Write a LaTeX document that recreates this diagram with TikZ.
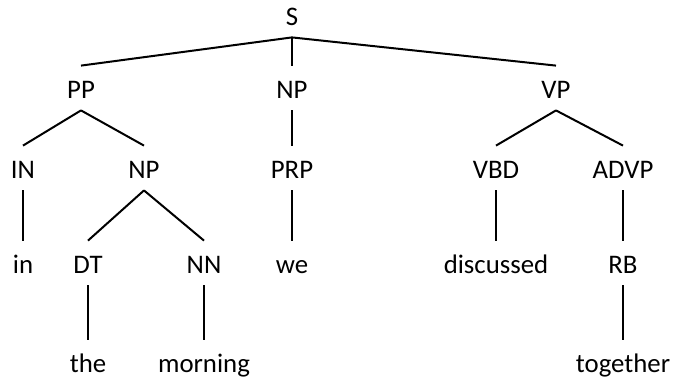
\documentclass[tikz,border=0pt]{standalone}
\usepackage{fontspec}
\setmainfont{Carlito}
\begin{document}
\begin{tikzpicture}[x=0.5pt,y=-0.5pt,
    tag/.style={font=\fontsize{13.4}{16}\selectfont, inner xsep=2pt, inner ysep=2pt, text height=14pt, text depth=4pt},
    branch/.style={line width=1pt}]
    \useasboundingbox (0,0) rectangle (675,381);
    \node[tag] (s) at (292,15) {S};
    \node[tag] (pp) at (81,88) {PP};
    \node[tag] (np) at (292,88) {NP};
    \node[tag] (vp) at (556,88) {VP};
    \node[tag] (in) at (23,168) {IN};
    \node[tag] (npb) at (144,168) {NP};
    \node[tag] (prp) at (292,168) {PRP};
    \node[tag] (vbd) at (496,168) {VBD};
    \node[tag] (advp) at (623,168) {ADVP};
    \node[tag] (win) at (23,263) {in};
    \node[tag] (dt) at (88,263) {DT};
    \node[tag] (nn) at (204,263) {NN};
    \node[tag] (wwe) at (292,263) {we};
    \node[tag] (wdisc) at (496,263) {discussed};
    \node[tag] (rb) at (623,263) {RB};
    \node[tag] (wthe) at (88,362) {the};
    \node[tag] (wmorn) at (204,362) {morning};
    \node[tag] (wtog) at (623,362) {together};
    \draw[branch] (s.south) -- (pp.north) ;
    \draw[branch] (s.south) -- (np.north) ;
    \draw[branch] (s.south) -- (vp.north) ;
    \draw[branch] (pp.south) -- (in.north) ;
    \draw[branch] (pp.south) -- (npb.north) ;
    \draw[branch] (np.south) -- (prp.north) ;
    \draw[branch] (vp.south) -- (vbd.north) ;
    \draw[branch] (vp.south) -- (advp.north) ;
    \draw[branch] (in.south) -- (win.north) ;
    \draw[branch] (npb.south) -- (dt.north) ;
    \draw[branch] (npb.south) -- (nn.north) ;
    \draw[branch] (prp.south) -- (wwe.north) ;
    \draw[branch] (vbd.south) -- (wdisc.north) ;
    \draw[branch] (advp.south) -- (rb.north) ;
    \draw[branch] (dt.south) -- (wthe.north) ;
    \draw[branch] (nn.south) -- (wmorn.north) ;
    \draw[branch] (rb.south) -- (wtog.north) ;
\end{tikzpicture}
\end{document}
